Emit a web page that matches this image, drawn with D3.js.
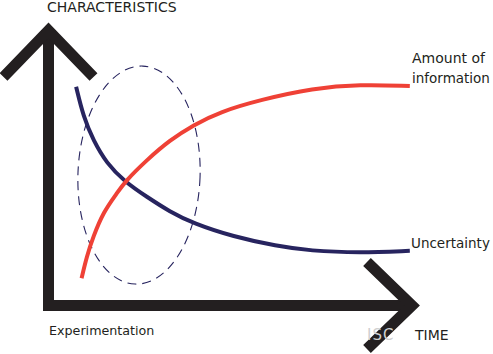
<!DOCTYPE html>
<html>
<head>
<meta charset="utf-8">
<script src="https://cdn.jsdelivr.net/npm/d3@7"></script>
<style>
  html, body { margin: 0; padding: 0; background: #fff; }
  svg { display: block; }
  text { font-family: "DejaVu Sans", sans-serif; fill: #231f20; }
</style>
</head>
<body>
<svg id="chart" width="493" height="354"></svg>
<script>
// ---- data (time 0..100, characteristic level 0..100) ----
const uncertaintyTime  = [7.6, 9.6, 12.3, 16.0, 21.0, 27.0, 33.4, 39.8, 50.8, 62.8, 71.9, 85.6, 99.4];
const uncertaintyValue = [78.8, 68.0, 59.6, 51.2, 44.6, 39.2, 33.8, 29.6, 24.8, 21.4, 19.7, 19.0, 19.7];
const informationTime  = [9.1, 10.5, 12.3, 15.1, 18.8, 21.0, 27.0, 33.4, 39.8, 47.2, 58.2, 72.8, 85.6, 99.4];
const informationValue = [9.8, 17.6, 24.8, 33.7, 40.4, 44.6, 52.4, 59.6, 65.0, 69.8, 74.1, 78.3, 79.7, 79.1];
// experimentation zone (ellipse): centre and half-extents in data units
const zoneCenter = [24.9, 47.0];
const zoneRadius = [16.8, 39.3];
const labels = {
  yAxis: "CHARACTERISTICS",
  xAxis: "TIME",
  hidden: "ISC",
  zone: "Experimentation",
  info: ["Amount of", "information"],
  unc: "Uncertainty"
};

const svg = d3.select("#chart");
const x = d3.scaleLinear().domain([0, 100]).range([48.5, 412]);
const y = d3.scaleLinear().domain([0, 100]).range([305.5, 28]);

const AX = "#231f20";
const NAVY = "#27245f";
const RED = "#ef4136";

// ellipse (dashed)
svg.append("ellipse")
  .attr("cx", x(zoneCenter[0]))
  .attr("cy", y(zoneCenter[1]))
  .attr("rx", x(zoneCenter[0] + zoneRadius[0]) - x(zoneCenter[0]))
  .attr("ry", y(zoneCenter[1]) - y(zoneCenter[1] + zoneRadius[1]))
  .attr("transform", `rotate(2 ${x(zoneCenter[0])} ${y(zoneCenter[1])})`)
  .attr("fill", "none")
  .attr("stroke", NAVY)
  .attr("stroke-width", 1.1)
  .attr("stroke-dasharray", "9 6");

const line = d3.line().x(d => x(d[0])).y(d => y(d[1])).curve(d3.curveBasis);

svg.append("path")
  .attr("d", line(d3.zip(uncertaintyTime, uncertaintyValue)))
  .attr("fill", "none").attr("stroke", NAVY).attr("stroke-width", 4);

svg.append("path")
  .attr("d", line(d3.zip(informationTime, informationValue)))
  .attr("fill", "none").attr("stroke", RED).attr("stroke-width", 4);

// axes: thick bars with chevron arrowheads
const W = 11;
const axisG = svg.append("g").attr("fill", "none").attr("stroke", AX)
  .attr("stroke-width", W).attr("stroke-linejoin", "miter").attr("stroke-miterlimit", 10);
axisG.append("path")
  .attr("d", `M${x(0)},${y(100) + 2} V${y(0)} H${x(100)}`);
// top chevron
axisG.append("path")
  .attr("d", `M${x(0) - 45},${y(100) + 49} L${x(0)},${y(100) + 2.5} L${x(0) + 45},${y(100) + 49}`);
// right chevron
axisG.append("path")
  .attr("d", `M${x(100) - 45},${y(0) - 43.5} L${x(100)},${y(0)} L${x(100) - 45},${y(0) + 43.5}`);

// texts
svg.append("text").attr("x", 47).attr("y", 12)
  .style("font-size", "14px").text(labels.yAxis);
svg.append("text").attr("x", 367).attr("y", 340)
  .style("font-size", "15px").style("letter-spacing", "1px")
  .style("fill", "#cfcfcf").text(labels.hidden);
svg.append("text").attr("x", 415).attr("y", 340)
  .style("font-size", "14px").text(labels.xAxis);
svg.append("text").attr("x", 49).attr("y", 335)
  .style("font-size", "12.7px").text(labels.zone);
svg.append("text").attr("x", 412).attr("y", 63)
  .style("font-size", "14px").text(labels.info[0]);
svg.append("text").attr("x", 412).attr("y", 83)
  .style("font-size", "13.5px").text(labels.info[1]);
svg.append("text").attr("x", 411).attr("y", 248)
  .style("font-size", "13.5px").text(labels.unc);
</script>
</body>
</html>
